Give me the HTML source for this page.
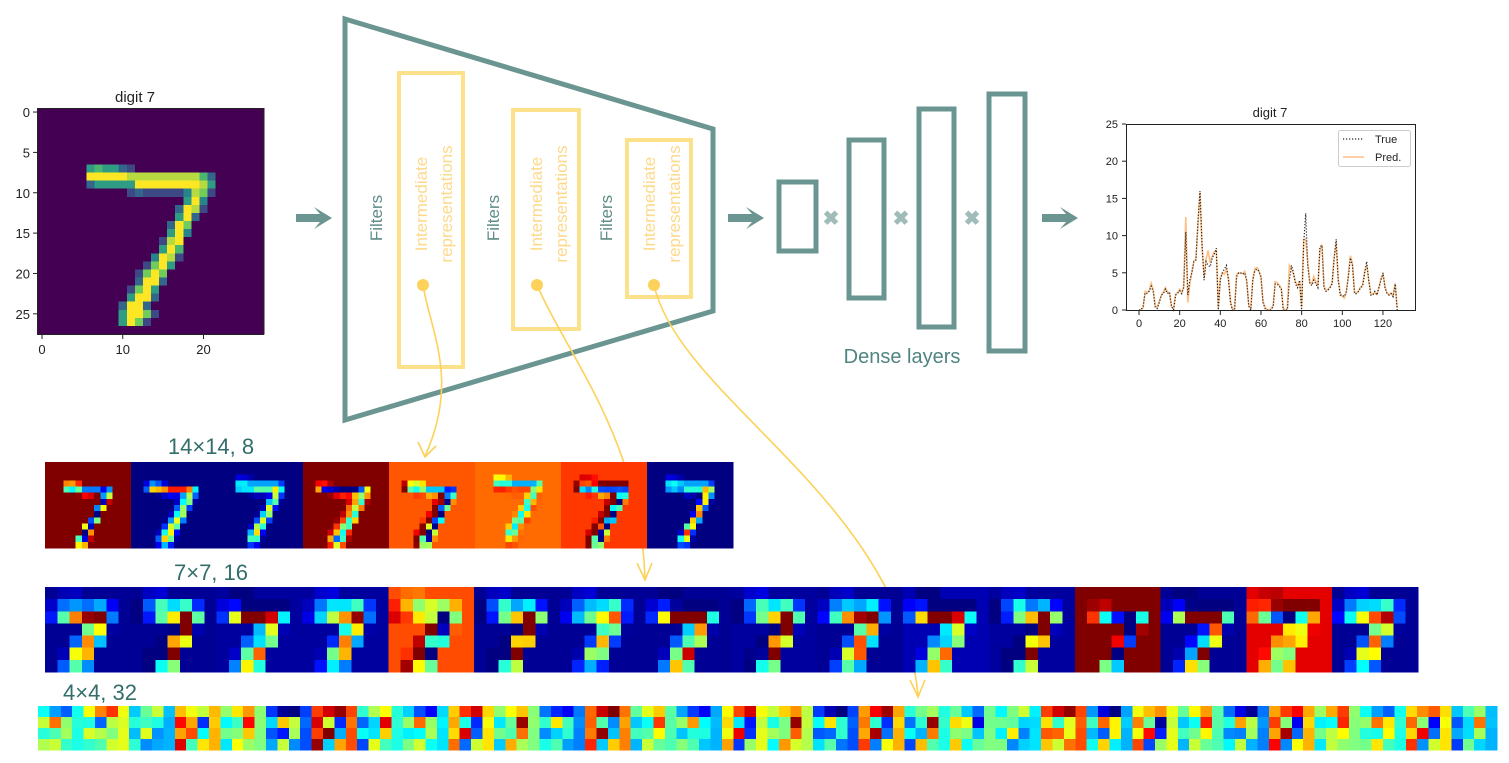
<!DOCTYPE html>
<html><head><meta charset="utf-8"><style>
html,body{margin:0;padding:0;background:#fff;}
svg{display:block;font-family:"Liberation Sans",sans-serif;}
</style></head><body>
<svg id="root" width="1509" height="763" viewBox="0 0 1509 763" xmlns="http://www.w3.org/2000/svg">
<g>
  <text x="135" y="102" font-size="15" text-anchor="middle" fill="#222">digit 7</text>
  <g id="digitCells" shape-rendering="crispEdges"></g>
  <rect x="37.5" y="108.5" width="226" height="226" fill="none" stroke="#222" stroke-width="1"/>
  <g id="digitTicks" font-size="13" fill="#222"></g>
</g>

<g fill="#6a9590">
  <path d="M296 214 H320 L314 207 L332 218 L314 229 L320 222 H296Z"/>
  <path d="M728 214 H752 L746 207 L764 218 L746 229 L752 222 H728Z"/>
  <path d="M1042 214 H1066 L1060 207 L1078 218 L1060 229 L1066 222 H1042Z"/>
</g>

<g>
  <polygon points="345,19 713,129 713,311 345,420" fill="none" stroke="#6a9590" stroke-width="5"/>
  <g fill="none" stroke="#fde08a" stroke-width="4">
    <rect x="399" y="73" width="64" height="294"/>
    <rect x="513" y="110" width="66" height="219"/>
    <rect x="627" y="140" width="64" height="157"/>
  </g>
  <g font-size="17" fill="#5e8c88">
    <text transform="translate(382,218) rotate(-90)" text-anchor="middle">Filters</text>
    <text transform="translate(499,218) rotate(-90)" text-anchor="middle">Filters</text>
    <text transform="translate(612,218) rotate(-90)" text-anchor="middle">Filters</text>
  </g>
  <g font-size="17" fill="#fdd98a">
    <text transform="translate(427,204) rotate(-90)" text-anchor="middle">Intermediate</text>
    <text transform="translate(452,204) rotate(-90)" text-anchor="middle">representations</text>
    <text transform="translate(542,204) rotate(-90)" text-anchor="middle">Intermediate</text>
    <text transform="translate(567,204) rotate(-90)" text-anchor="middle">representations</text>
    <text transform="translate(655,204) rotate(-90)" text-anchor="middle">Intermediate</text>
    <text transform="translate(680,204) rotate(-90)" text-anchor="middle">representations</text>
  </g>
  <g fill="#fcd25a">
    <circle cx="423" cy="285" r="6"/>
    <circle cx="537" cy="285" r="6"/>
    <circle cx="654" cy="285" r="6"/>
  </g>
  <g fill="none" stroke="#fcd25a" stroke-width="1.6">
    <path d="M423 285 C430 330 460 380 425 456"/>
    <path d="M418 442 L425 457 L436 446"/>
    <path d="M537 285 C570 360 640 440 645 578"/>
    <path d="M637 563 L645 580 L652 563"/>
    <path d="M654 285 C680 400 900 500 918 695"/>
    <path d="M910 680 L918 697 L925 680"/>
  </g>
</g>

<g>
  <g fill="none" stroke="#6a9590" stroke-width="5">
    <rect x="779" y="182" width="37" height="69"/>
    <rect x="849" y="140" width="35" height="158"/>
    <rect x="919" y="109" width="35" height="218"/>
    <rect x="989" y="94" width="36" height="257"/>
  </g>
  <g font-size="20" fill="#9fbcb8" font-weight="bold" text-anchor="middle">
    <text x="831" y="225">✖</text>
    <text x="901" y="225">✖</text>
    <text x="972" y="225">✖</text>
  </g>
  <text x="902" y="363" font-size="20" fill="#4f8580" text-anchor="middle">Dense layers</text>
</g>

<g>
  <text x="1270" y="117" font-size="13" fill="#222" text-anchor="middle">digit 7</text>
  <g id="chartTicks" font-size="11" fill="#222"></g>
  <path id="predLine" fill="none" stroke="#fdbf86" stroke-width="1.6"/>
  <path id="trueLine" fill="none" stroke="#222" stroke-width="1.2" stroke-dasharray="1.2,1.8"/>
  <rect x="1126.5" y="124.5" width="289" height="186" fill="none" stroke="#222" stroke-width="1"/>
  <g>
    <rect x="1338.5" y="130.5" width="72" height="36" fill="#fff" stroke="#ccc" rx="2"/>
    <line x1="1343" y1="139" x2="1364" y2="139" stroke="#222" stroke-width="1.2" stroke-dasharray="1.2,1.8"/>
    <text x="1375" y="143" font-size="11" fill="#222">True</text>
    <line x1="1343" y1="157" x2="1364" y2="157" stroke="#fdbf86" stroke-width="1.6"/>
    <text x="1375" y="161" font-size="11" fill="#222">Pred.</text>
  </g>
</g>

<g font-size="22" fill="#336e6a">
  <text x="211" y="454" text-anchor="middle">14×14, 8</text>
  <text x="211" y="580" text-anchor="middle">7×7, 16</text>
  <text x="100" y="700" text-anchor="middle">4×4, 32</text>
</g>
<g id="maps" shape-rendering="crispEdges"></g>
</svg>
<script>
const digitRows = [
[0,""],[0,""],[0,""],[0,""],[0,""],[0,""],[0,""],
[6,"565532"],[6,"9999988888888863"],[6,"3555559999999985"],[11,"23222224872"],
[18,"594"],[17,"3982"],[17,"593"],[16,"397"],[16,"594"],[15,"289"],[15,"596"],
[14,"4982"],[13,"2795"],[12,"2797"],[12,"3993"],[11,"2795"],[11,"5993"],
[10,"3993"],[10,"59972"],[10,"5972"],[0,""]];
const trueVals = [0,0,0.5,2.3,2.2,2.5,3.2,2.5,0.3,0.2,1,2,2.2,2.8,2.2,2.4,0.5,0,2,2.2,2.6,2.2,3,10.5,2,4,5,6.5,6.7,12,16,9,4,6.5,6,5.8,7,7.5,8.3,0,4,5,5.5,6,4,1,0,0,4.5,5,5,4.8,5,4,0.5,0,4,5.3,5.5,5.2,4.5,1,0.2,0,0,0,0.5,3.5,3.5,3.2,2.8,0,0,0,4,6,5,3.5,3,4,0,9,13,6,3.5,3.3,4,3.5,3,8.5,8.7,3,2.5,2.7,3,3.5,7,9.5,4,2,2,1.8,2.5,4.5,7,6,2.2,2.2,2.5,3,3.2,5,6.5,4,2,2,2.5,2,3,4,5,3,2.2,2,2.2,1.8,3.5,0];
const predVals = [0,0,0.3,2.5,2.4,2.6,3.6,2.8,0.5,0.4,1.2,2,2.4,3,2.4,2.3,0.4,0.2,2.1,2.4,2.8,2.3,3.2,12.5,1,3.5,5.2,6.6,6.8,11.5,15.8,8.5,4.5,6.8,8,6.3,7.2,7.8,8,0.3,4.3,5,4.8,5.5,4.2,1.2,0,0.3,4.7,5,4.9,4.9,5.2,3.8,0.6,0.2,4.2,5.6,5.7,5.3,4.3,1.2,0.4,0,0,0.2,0.6,3.8,3.7,3.3,2.9,0.2,0,0.3,6,5.5,4.8,3.8,3.2,3.8,0.4,9.5,9.5,6.5,3.8,3.5,4.5,3.8,3.2,8,8.8,3.2,2.6,2.8,3.1,3.6,7.2,9,4.2,2.2,1.8,1.6,2.4,4.8,7.3,6.2,2.4,2.3,2.6,3.1,3.3,5.2,6,4.1,2.2,2.1,2.4,2.1,3,4.2,4.8,3.1,2.3,2,2.3,1.9,3.6,0.3];
const yTicks = [0,5,10,15,20,25];
const xTicks = [0,20,40,60,80,100,120];
const digitXTicks = [0,10,20];
const digitYTicks = [0,5,10,15,20,25];
const r1Bias = [1.0,0.0,0.0,1.0,0.79,0.77,0.82,0.0];
const r1Gain = [-0.8,0.9,0.75,-0.9,-0.5,-0.4,-0.4,0.7];
const r1Dx = [0.4,0.3,0.0,-0.4,0.5,0.0,0.5,-0.3];
const r1Dy = [0.0,0.0,0.3,0.3,0.0,-0.5,0.3,0.3];
const r2Bias = [0.02,0.02,0.03,0.03,0.8,0.02,0.02,0.02,0.03,0.02,0.05,0.03,1.0,0.02,0.9,0.02];
const r2Gain = [2.0,1.9,1.7,1.8,-1.0,1.9,1.6,2.0,1.9,2.1,1.7,1.8,-1.3,1.8,-1.1,1.9];
const r2Dx = [0.7,-0.5,0.8,0.4,0.6,-0.6,0.5,0.8,-0.4,0.6,0.9,-0.6,0.7,0.5,-0.7,0.6];
const r2Dy = [0.4,0.6,-0.5,0.6,-0.4,0.5,0.6,-0.4,0.6,0.5,-0.6,0.4,0.5,-0.5,0.4,0.6];
const r3Bias = [0.4,0.6,0.3,0.7,0.5,0.2,0.8,0.4,0.35,0.65,0.5,0.25,0.75,0.45,0.3,0.6,0.55,0.2,0.7,0.4,0.5,0.35,0.8,0.3,0.6,0.45,0.25,0.7,0.5,0.4,0.65,0.3];
const r3Gain = [0.6,-0.5,0.8,-0.6,0.5,0.9,-0.7,0.6,0.7,-0.5,0.6,0.8,-0.6,0.5,0.7,-0.4,0.5,0.8,-0.6,0.7,-0.5,0.6,-0.7,0.8,-0.5,0.6,0.9,-0.6,0.5,0.7,-0.5,0.8];
const r3Dx = [0.5,-0.6,0.4,0.7,-0.5,0.3,0.6,-0.7,0.5,0.4,-0.6,0.5,0.3,-0.5,0.7,0.4,-0.6,0.5,0.4,-0.7,0.6,0.5,-0.4,0.3,0.7,-0.5,0.4,0.6,-0.5,0.3,0.6,-0.4];
const r3Dy = [-0.4,0.5,0.6,-0.3,0.5,-0.6,0.4,0.5,-0.5,0.6,0.4,-0.3,0.6,0.5,-0.4,0.7,0.4,-0.5,0.6,0.3,-0.6,0.5,0.4,-0.7,0.3,0.6,-0.5,0.4,0.7,-0.4,0.3,0.5];

const NS = "http://www.w3.org/2000/svg";
function mk(tag, attrs, parent){const e=document.createElementNS(NS,tag);for(const k in attrs)e.setAttribute(k,attrs[k]);parent.appendChild(e);return e;}
const clamp=v=>Math.max(0,Math.min(1,v));
function jet(v){v=clamp(v);const r=clamp(1.5-Math.abs(4*v-3)),g=clamp(1.5-Math.abs(4*v-2)),b=clamp(1.5-Math.abs(4*v-1));return `rgb(${Math.round(r*255)},${Math.round(g*255)},${Math.round(b*255)})`;}
const vir=[[68,1,84],[59,82,139],[33,145,140],[94,201,98],[253,231,37]];
function viridis(v){v=clamp(v)*4;const i=Math.min(3,Math.floor(v)),t=v-i;const a=vir[i],b=vir[i+1];return `rgb(${a.map((c,k)=>Math.round(c+(b[k]-c)*t)).join(',')})`;}

const digit = digitRows.map(([o,s])=>{const r=new Array(28).fill(0);for(let i=0;i<s.length;i++)r[o+i]=+s[i]/9;return r;});
function down(n){const s=28/n,g=[];for(let r=0;r<n;r++){g.push([]);for(let c=0;c<n;c++){let sum=0,cnt=0;for(let y=Math.floor(r*s);y<Math.floor((r+1)*s);y++)for(let x=Math.floor(c*s);x<Math.floor((c+1)*s);x++){sum+=digit[y][x];cnt++;}g[r].push(sum/cnt);}}return g;}

const dg=document.getElementById('digitCells');const dcs=226/28;
for(let r=0;r<28;r++)for(let c=0;c<28;c++){
  const e=mk('rect',{x:38+c*dcs,y:108+r*dcs,width:dcs+0.5,height:dcs+0.5,fill:viridis(digit[r][c])},dg);
  
  
}
const dt=document.getElementById('digitTicks');
digitYTicks.forEach(t=>{const y=108+(t+0.5)*dcs;
  mk('line',{x1:33,y1:y,x2:37,y2:y,stroke:'#222'},dt);
  const e=mk('text',{x:30,y:y+5,'text-anchor':'end'},dt);e.textContent=t;
  
  });
digitXTicks.forEach(t=>{const x=38+(t+0.5)*dcs;
  mk('line',{x1:x,y1:335,x2:x,y2:339,stroke:'#222'},dt);
  const e=mk('text',{x:x,y:354,'text-anchor':'middle'},dt);e.textContent=t;
  
  });

const xS=i=>1139+i*2.033, yS=v=>310-v*7.44;
const ct=document.getElementById('chartTicks');
yTicks.forEach(t=>{mk('line',{x1:1122,y1:yS(t),x2:1126,y2:yS(t),stroke:'#222'},ct);
  const e=mk('text',{x:1118,y:yS(t)+4,'text-anchor':'end'},ct);e.textContent=t;
  
  });
xTicks.forEach(t=>{mk('line',{x1:xS(t),y1:311,x2:xS(t),y2:315,stroke:'#222'},ct);
  const e=mk('text',{x:xS(t),y:327,'text-anchor':'middle'},ct);e.textContent=t;
  
  });
const toPath=a=>a.map((v,i)=>(i?'L':'M')+xS(i).toFixed(1)+' '+yS(v).toFixed(1)).join(' ');
document.getElementById('predLine').setAttribute('d',toPath(predVals));
document.getElementById('trueLine').setAttribute('d',toPath(trueVals));

const maps=document.getElementById('maps');
function row(n,count,x0,x1,y0,y1,B,G,DX,DY,name){
  const g=down(n),mw=(x1-x0)/count,cw=mw/n,ch=(y1-y0)/n;
  for(let m=0;m<count;m++)for(let r=0;r<n;r++)for(let c=0;c<n;c++){
    const v=g[r][c],vx=(g[r][c+1]??0)-v,vy=(g[r+1]?g[r+1][c]:0)-v;
    const val=B[m]+G[m]*v+DX[m]*vx+DY[m]*vy;
    const e=mk('rect',{x:x0+m*mw+c*cw,y:y0+r*ch,width:cw+0.6,height:ch+0.6,fill:jet(val)},maps);
    
    
  }
}
row(14,8,45,733,462,548,r1Bias,r1Gain,r1Dx,r1Dy,'map14-cell');
row(7,16,45,1418,587,672,r2Bias,r2Gain,r2Dx,r2Dy,'map7-cell');
row(4,32,38,1497,706,750,r3Bias,r3Gain,r3Dx,r3Dy,'map4-cell');
</script>
</body></html>
